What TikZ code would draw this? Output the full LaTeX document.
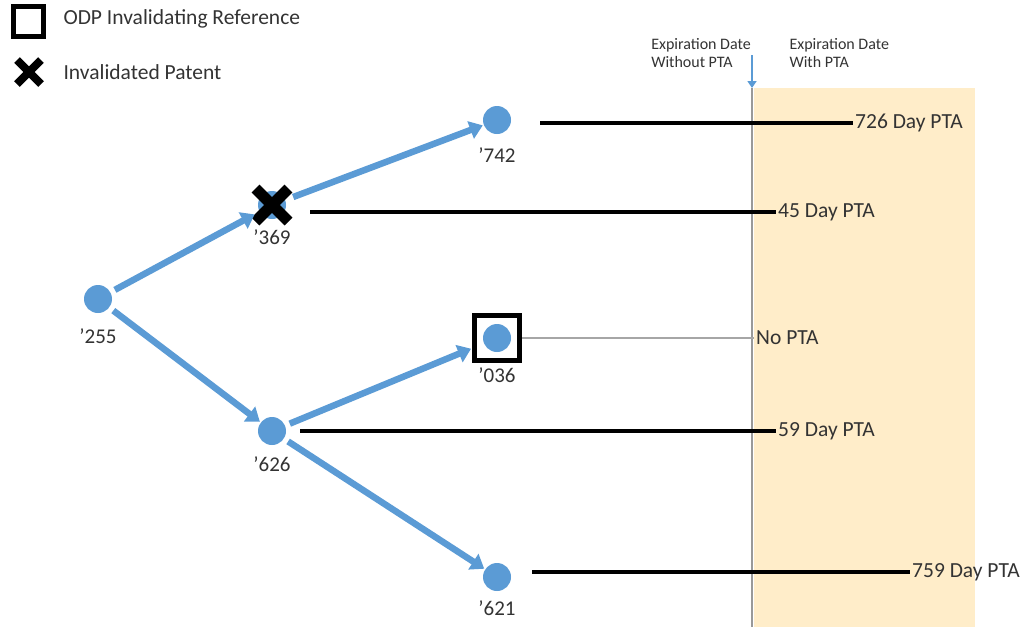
\documentclass[tikz,border=0pt]{standalone}
\usepackage{fontspec}
\setmainfont{Carlito}
\usepackage{xcolor}
\usetikzlibrary{arrows.meta, positioning, shapes.misc}

\definecolor{patblue}{HTML}{5B9BD5}
\definecolor{ptatan}{HTML}{FFEDC9}
\definecolor{txtgray}{HTML}{333333}

\tikzset{
  patent/.style={circle, fill=patblue, minimum size=28pt, inner sep=0pt},
  patno/.style={font=\fontsize{21}{23}\selectfont, text=txtgray, inner sep=1pt},
  family/.style={draw=patblue, line width=6.5pt, shorten <=5pt, shorten >=1pt,
    -{Triangle[length=13pt,width=18pt]}},
  term/.style={black, line width=3.3pt},
  ptalabel/.style={anchor=west, font=\fontsize{21.5}{23}\selectfont, text=txtgray, inner sep=2pt},
  legtext/.style={anchor=west, font=\fontsize{21.5}{23}\selectfont, text=txtgray},
  invalid/.style={cross out, draw=black, line width=#1/2, minimum size=#1, inner sep=0pt},
  odpbox/.style={draw=black, line width=5pt, minimum size=#1, inner sep=0pt},
}

\begin{document}
\begin{tikzpicture}[x=1pt, y=-1pt]
    \useasboundingbox (0,0) rectangle (1029,627);

    % patent term extension band
    \fill[ptatan] (754,88) rectangle (975,627);
    \coordinate (etop) at (752,88);
    \coordinate (ebot) at (752,627);
    \draw[gray!80, line width=1.6pt] (etop) -- (ebot);

    \node[font=\fontsize{16}{18.5}\selectfont, text=txtgray, align=left] (nopta) at (701,53) {Expiration Date\\Without PTA};
    \node[font=\fontsize{16}{18.5}\selectfont, text=txtgray, align=left, anchor=west] (wpta) at (786,53) {Expiration Date\\With PTA};
    \coordinate (eflag) at (752,55);
    \draw[patblue, line width=2.8pt, -{Triangle[length=7pt,width=9pt]}] (eflag) -- (etop);

    % legend
    \node[odpbox=30pt] (legbox) at (28.5,21.5) {};
    \node[legtext] (legboxtxt) at (60,19) {ODP Invalidating Reference};
    \node[invalid=16pt] (legx) at (29,72) {};
    \node[legtext] (legxtxt) at (60,72) {Invalidated Patent};

    % patents
    \node[patent] (p255) at (98,299) {};
    \node[patent] (p369) at (272,205) {};
    \node[patent] (p742) at (497,120) {};
    \node[patent] (p036) at (497,338) {};
    \node[patent] (p626) at (272,431) {};
    \node[patent] (p621) at (497,577) {};

    \node[odpbox=45pt] (box036) at (p036) {};
    \node[invalid=22pt] (x369) at (p369) {};

    \node[patno, below=14pt of p255] {’255};
    \node[patno, below=7pt of x369] {’369};
    \node[patno, below=12pt of p742] {’742};
    \node[patno, below=3pt of box036] {’036};
    \node[patno, below=10pt of p626] {’626};
    \node[patno, below=8pt of p621] {’621};

    % continuation arrows
    \draw[family] (p255) -- (x369);
    \draw[family] (x369) -- (p742);
    \draw[family] (p255) -- (p626);
    \draw[family] (p626) -- (box036);
    \draw[family] (p626) -- (p621);

    % terms
    \node[ptalabel] (t742) at (853,123) {726 Day PTA};
    \node[ptalabel] (t369) at (776,212) {45 Day PTA};
    \node[ptalabel] (t036) at (754,338) {No PTA};
    \node[ptalabel] (t626) at (776,431) {59 Day PTA};
    \node[ptalabel] (t621) at (910,572) {759 Day PTA};

    \draw[term] ([xshift=29pt,yshift=-3pt]p742.east) -- (t742.west);
    \draw[term] ([xshift=24pt,yshift=-7pt]p369.east) -- (t369.west);
    \draw[gray!70, line width=2.2pt] (box036.east) -- (t036.west);
    \draw[term] ([xshift=14pt]p626.east) -- (t626.west);
    \draw[term] ([xshift=21pt,yshift=5pt]p621.east) -- (t621.west);
\end{tikzpicture}
\end{document}
